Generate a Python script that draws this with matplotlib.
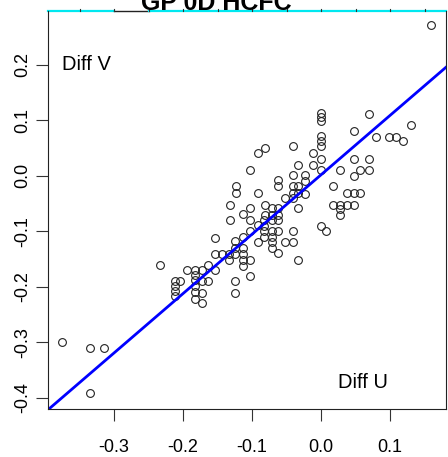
import numpy as np
import matplotlib
matplotlib.use("Agg")
import matplotlib.pyplot as plt

plt.rcParams['font.family'] = ['Liberation Sans', 'DejaVu Sans']

title = "GP 0D HCFC"
x_label_text = "Diff U"
y_label_text = "Diff V"

# diff U / diff V pairs
diff_u = [
    -0.375, -0.335, -0.314, -0.335, 0.159,
    -0.234, -0.212, -0.212, -0.212, -0.212, -0.204, -0.194,
    -0.183, -0.183, -0.183, -0.183, -0.183, -0.183,
    -0.172, -0.172, -0.172, -0.172, -0.164, -0.164,
    -0.154, -0.154, -0.154, -0.143, -0.133, -0.133,
    -0.125, -0.125, -0.125, -0.125, -0.125,
    -0.113, -0.113, -0.113, -0.113, -0.113,
    -0.103, -0.103, -0.103, -0.092, -0.092,
    -0.082, -0.082, -0.082, -0.082,
    -0.071, -0.071, -0.071, -0.071, -0.063, -0.063,
    -0.052, -0.041, -0.041, -0.033,
    -0.132, -0.132, -0.113, -0.103, -0.103, -0.124, -0.124,
    -0.103, -0.092, -0.081, -0.092, -0.081, -0.081,
    -0.071, -0.071, -0.071, -0.063, -0.063, -0.063, -0.063, -0.063,
    -0.052, -0.041, -0.041, -0.041, -0.041, -0.041,
    -0.033, -0.033, -0.033, -0.033, -0.023, -0.023, -0.023,
    -0.012, -0.012,
    0.000, 0.000, 0.000, 0.000, 0.000, 0.000, 0.000, 0.000, 0.000, 0.007,
    0.017, 0.017, 0.028, 0.028, 0.028, 0.028, 0.038, 0.038,
    0.048, 0.048, 0.048, 0.048, 0.048, 0.057, 0.057,
    0.069, 0.069, 0.069, 0.080, 0.098, 0.109, 0.119, 0.130,
]
diff_v = [
    -0.300, -0.311, -0.311, -0.392, 0.272,
    -0.161, -0.190, -0.199, -0.208, -0.217, -0.190, -0.169,
    -0.169, -0.178, -0.188, -0.199, -0.210, -0.222,
    -0.169, -0.190, -0.211, -0.229, -0.161, -0.190,
    -0.141, -0.169, -0.112, -0.141, -0.141, -0.151,
    -0.118, -0.130, -0.141, -0.190, -0.211,
    -0.130, -0.141, -0.151, -0.162, -0.111,
    -0.151, -0.180, -0.100, -0.120, -0.089,
    -0.079, -0.090, -0.100, -0.110,
    -0.100, -0.110, -0.120, -0.130, -0.100, -0.139,
    -0.120, -0.120, -0.100, -0.151,
    -0.052, -0.080, -0.069, -0.058, -0.080, -0.019, -0.030,
    0.010, 0.041, 0.051, -0.030, -0.052, -0.070,
    -0.058, -0.070, -0.079, -0.007, -0.019, -0.058, -0.070, -0.079,
    -0.040, 0.053, 0.002, -0.019, -0.030, -0.040,
    0.020, -0.019, -0.030, -0.058, 0.002, -0.010, -0.032,
    0.042, 0.020,
    0.113, 0.106, 0.098, 0.071, 0.062, 0.053, 0.030, 0.010, -0.090, -0.100,
    -0.019, -0.052, 0.010, -0.052, -0.060, -0.070, -0.030, -0.052,
    0.080, 0.030, 0.000, -0.030, -0.052, 0.010, -0.030,
    0.112, 0.030, 0.010, 0.070, 0.070, 0.070, 0.062, 0.091,
]

fit_intercept = 0.002
fit_slope = 1.07

x_ticks = [-0.3, -0.2, -0.1, 0.0, 0.1]
y_ticks = [-0.4, -0.3, -0.2, -0.1, 0.0, 0.1, 0.2]
x_lim = (-0.3957, 0.181)
y_lim = (-0.42, 0.297)

fig = plt.figure(figsize=(4.48, 4.57), dpi=100)
ax = fig.add_axes([48 / 448, 1 - 409 / 457, 398 / 448, 398 / 457])

ax.plot(diff_u, diff_v, 'o', ms=5.6, mfc='none', mec='#222222', mew=0.8)
ax.axline((0, fit_intercept), slope=fit_slope, color='#0000ff', lw=2.0)

ax.set_xlim(*x_lim)
ax.set_ylim(*y_lim)
ax.set_xticks(x_ticks)
ax.set_yticks(y_ticks)
ax.set_xticklabels([f"{t:.1f}" for t in x_ticks])
ax.set_yticklabels([f"{t:.1f}" for t in y_ticks], va='center')
ax.tick_params(axis='both', direction='out', length=8.6, width=0.8,
               color='#333333', labelsize=13)
ax.tick_params(axis='x', pad=13)
ax.tick_params(axis='y', pad=3.5, labelrotation=90)

for side in ['left', 'bottom', 'right']:
    ax.spines[side].set_linewidth(0.8)
    ax.spines[side].set_color('#222222')
ax.spines['top'].set_visible(False)

# leftover top edge from the panel above: cyan line with small ticks
tr = ax.get_xaxis_transform()
ax.plot([x_lim[0], -0.3], [1, 1], color='#00e8f0', lw=1.6, transform=tr, clip_on=False)
ax.plot([-0.3, -0.25], [1, 1], color='#222222', lw=1.0, transform=tr, clip_on=False)
ax.plot([-0.25, x_lim[1]], [1, 1], color='#00e8f0', lw=1.6, transform=tr, clip_on=False)
for t in np.arange(-0.35, 0.16, 0.05):
    ax.plot([t, t], [1, 1.004], color='#333333', lw=0.8, transform=tr, clip_on=False)

ax.text(-0.375, 0.2, y_label_text, ha='left', va='center', fontsize=14.5)
ax.text(0.025, -0.373, x_label_text, ha='left', va='center', fontsize=14.5)

fig.text(216 / 448, 1 - 10 / 457, title, ha='center', va='baseline',
         fontsize=18, fontweight='bold')

fig.savefig("out.png", dpi=100)
